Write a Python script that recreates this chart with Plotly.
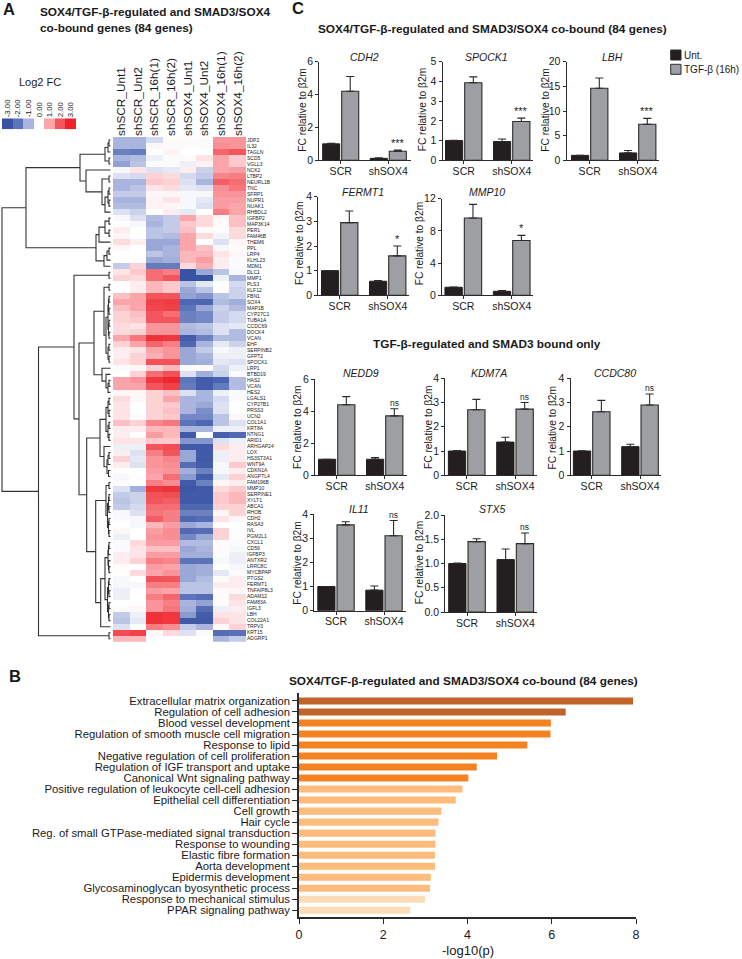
import plotly.graph_objects as go

W, H = 742, 959
FONT = "Liberation Sans"
INK = "#2b2b2b"

# ---------- Panel A data ----------
samples = ["shSCR_Unt1", "shSCR_Unt2", "shSCR_16h(1)", "shSCR_16h(2)",
           "shSOX4_Unt1", "shSOX4_Unt2", "shSOX4_16h(1)", "shSOX4_16h(2)"]
genes = ["JDP2", "IL32", "TAGLN", "SCD5", "VGLL3", "NCK2", "LTBP2", "NEURL1B", "TNC", "SFRP1",
         "NUPR1", "NUAK1", "RHBDL2", "IGFBP2", "MAP3K14", "PER1", "FAM46B", "THEM6", "PPL", "LRP4",
         "KLHL23", "MDM1", "DLC1", "MMP1", "PLS3", "KLF12", "FBN1", "SOX4", "MAP1B", "CYP27C1",
         "TUBA1A", "CCDC69", "DOCK4", "VCAN", "EHF", "SERPINB2", "GFPT2", "SPOCK1", "LRP1", "BTBD19",
         "HAS2", "VCAN", "HES2", "LGALS1", "CYP27B1", "PRSS3", "UCN2", "COL1A1", "KRT8A", "NTNG1",
         "ARID1", "ARHGAP24", "LOX", "HS3ST3A1", "WNT9A", "CDKN1A", "ANGPTL4", "FAM196B", "MMP10", "SERPINE1",
         "XYLT1", "ABCA1", "RHOB", "CDH2", "RASA3", "IVL", "PGM2L1", "CXCL1", "CD59", "IGFBP3",
         "ANTXR2", "LRRC8C", "MYCBPAP", "PTGS2", "FERMT1", "TNFAIP8L3", "ADAM12", "FAM83A", "IGFL3", "LBH",
         "COL22A1", "TRPV3", "KRT15", "ADGRP1"]
log2fc = [
    [-1, -1, -.5, .05, .05, -.05, 1.2, 1.2], [-1, -1, .1, -.05, .05, -.05, 1.3, 1.2],
    [-1.8, -1.9, 0, .15, 0, 0, 1.8, 2], [-1, -.9, -.2, -.05, .05, .3, 1, .6],
    [-1.3, -.8, -.05, -.05, -.2, .15, 1, .6], [-.1, .3, -.4, -.3, .2, -.6, 1, 1.1],
    [-.4, -.5, .5, .4, -.5, -.7, 1.4, 1.5], [-1, -1, .6, .5, -.4, -1, 1.9, 1.7],
    [-1, -.8, .3, .4, -.3, -.4, 1.3, 1.6], [-.7, -.7, .1, .1, -.1, -.1, 1.2, 1.2],
    [-1, -1, .15, .3, -.1, -.3, 1.1, 1.1], [-.9, -.9, .15, .1, -.1, -.4, 1.1, 1],
    [-.4, -.6, 0, .2, -.3, 0, 1.5, 1], [-.1, -.4, -.9, -.7, 1, .4, .1, .7],
    [0, -.1, -1, -.7, .6, .4, .05, .7], [.2, 0, -.8, -.7, .7, .05, -.03, .4],
    [.1, 0, -.8, -.9, 1, .4, -.15, .4], [.4, .2, -1.2, -1.2, 1, 0, -.4, .1],
    [.1, 0, -1.2, -1, 1, .7, -.1, .05], [0, 0, -.8, -1, .8, .8, .3, .1],
    [-.02, 0, -1.2, -1.1, .8, 1.1, .2, -.05], [-.7, .5, -1.9, -1.9, .4, .9, .2, -.05],
    [.3, .6, 1.7, 1.5, -3, -1.2, -.8, -.1], [.5, .4, 1.7, 2, -3, -3, -.2, -1],
    [0, .2, .8, .6, -.8, -.3, 0, -.5], [0, .2, .8, .6, -1.2, -.8, 0, -.6],
    [.7, 1, 2, 2, -1.3, -1.5, -.8, -.6], [1, 1, 2.4, 2.5, -2.4, -2.4, -.9, -1.1],
    [.7, 1, 2.3, 2.4, -2, -1.2, -.6, -.9], [.5, .7, 2, 1.7, -1.8, -1.7, -.7, -.5],
    [.5, .6, 2, 2, -1.8, -1.7, -.7, -.5], [.4, .3, 1.2, 1.2, -.9, -.8, -.4, -.3],
    [.4, .5, 1.2, 1.2, -1, -.9, -.4, -.9], [1, 1.6, 2.7, 2.6, -2.7, -1.8, -.9, -.9],
    [.5, 1, 1.8, 1.5, -2.4, -1, -.3, -.6], [.2, .3, 1, 1.2, -1.2, -.7, -.1, -.2],
    [.2, .5, .9, 1.2, -1.2, -1, -.2, -.2], [.3, .5, 2.1, 2.1, -1.2, -1.1, -.3, -.4],
    [-.05, .1, .5, .8, -.05, -.05, -.5, -.2], [0, .5, 1.7, 2.1, -.4, -1.1, -.6, -.05],
    [1, 1.2, 2.6, 2.9, -2, -2.7, -2.5, -.9], [1, 1, 2, 2.4, -1.9, -2.7, -1.9, -.9],
    [.1, .1, .5, .7, -.4, -1, -.2, -.05], [.4, .1, .5, 1, -1, -1, -.5, -.05],
    [.3, 0, .5, .6, -1, -1.2, -.4, 0], [.3, 0, .5, .7, -1, -1.6, -.4, 0],
    [.3, -.05, .5, .6, -1.7, -1.7, -.8, .1], [.7, .5, 1.4, 1.6, -2, -2.4, -.8, -.4],
    [.2, .2, .8, .8, -1, -1, -.2, -.2], [.2, 0, 1.1, .8, -2.8, 0, -2.6, -2.3],
    [.3, .3, .6, .6, -1.5, -1.5, -.4, -.2], [-.2, -.2, 2, 2.2, -2.8, -2.8, .4, .2],
    [.2, -.4, 1.5, 2, -1.2, -2.8, -.2, .2], [.5, -.3, 1.2, 1.4, -1.2, -2.8, -.2, .2],
    [.2, -.4, 1.2, 1.3, -2.2, -2.7, -.1, .6], [0, 0, 1.1, 1.2, -1.1, -1.8, -.1, .2],
    [-.1, .03, 1, 1.7, -1.4, -2.7, -.3, .5], [-.05, 0, 1.5, 1.3, -2.8, -1.8, .1, .2],
    [-.4, -1.1, 2.6, 2.7, -2.9, -2.8, .4, .6], [-.7, -.6, 2.1, 2.2, -2.8, -2.8, .6, .8],
    [-.8, -.6, 2, 1.9, -2.8, -2.8, .6, .8], [-.7, -.5, 1.7, 1.7, -2.4, -2.4, .5, .5],
    [-.1, -.4, 1.6, 1.5, -1.8, -1.8, .1, .5], [-.05, -.1, 1.9, 1.5, -2.4, -2.2, .3, .1],
    [0, -.1, .8, 1.1, -1.2, -1, 0, 0], [.1, 0, 1.1, 1.3, -2.3, -2.2, .5, -.03],
    [-.2, 0, 1.2, 1.3, -1.7, -1.2, .5, -.03], [-.05, .4, 1.1, 1.1, -.9, -.9, .05, -.05],
    [-.05, .3, .7, .7, -1.2, -1, .05, -.1], [.2, .3, 1.1, 1.1, -1.1, -1.1, -.05, -.2],
    [.2, .5, 1.5, 1.4, -2, -2, -.1, -.2], [.05, 0, 1.1, 1, -1.2, -1.1, 0, -.1],
    [.02, .4, 1, 1.2, -1.2, -1.1, -.3, -.05], [-.1, 0, 2.1, 2, -1.2, -.9, .05, .2],
    [-.1, -.1, 1.5, 1.5, -.8, -.8, .2, .2], [-.2, 0, 1.1, 1, -.8, -.8, .05, .1],
    [-.2, 0, 1.5, 1.8, -2, -2.2, .05, .4], [0, 0, 1.2, 1.5, -1, -1.3, .05, .3],
    [-.05, .1, 1.2, 1.6, -1.1, -2.2, -.2, .2], [-.7, -.2, 2.7, 2.6, -1.4, -2.7, .3, .3],
    [-.8, -.3, 2.7, 2.6, -2.8, -2.8, .5, .3], [-.4, -.03, 1.5, 1.3, -.7, -1, .1, .5],
    [2.2, 2.4, .1, .4, -.4, -.05, -2.2, -2.1], [.8, .8, -.02, 0, 0, 0, -1, -.7],
]
legend_values = [-3, -2, -1, 0, 1, 2, 3]
legend_labels = ["-3.00", "-2.00", "-1.00", "0.00", "1.00", "2.00", "3.00"]

# Row dendrogram: a node is [height, child, child]; a child that is an int is a row number.
leaf_height = 2.5
row_tree = [111,
    [87,
        [33,
            [8, [5, [4, 1, 2], 3], [4, 4, 5]],
            [27, 6, [11, [4, 7, 8], [8, [5, [4, 9, 10], [4, 11, 12]], 13]]]],
        [17,
            [14, [8, [4, 14, 15], [4, 16, 17]], 18],
            [9, [6, [4, 19, 20], 21], 22]]],
    [74.5,
        [39,
            [4, 23, 24],
            [34,
                [19,
                    [9, [4, 25, 26],
                        [7, [5, [4.5, [4, 27, 28], [4, 29, 30]], [4.5, [4, 31, 32], [4, 33, 34]]],
                            [5, [4, 35, 36], [4, 37, 38]]]],
                    [11, 39, [7, 40, [5, [4, 41, 42], 43]]]],
                [26.3,
                    [13,
                        [7, [5, [4, 44, 45], [4, 46, 47]], [5, [4, 48, 49], [4, 50, 51]]],
                        [9, 52, [6, [5, [4, 53, 54], 55], [4.5, 56, 57]]]],
                    [17.3,
                        [7, [4, 58, 59],
                            [5.5, [4.5, [4, 60, 61], [4, 62, 63]], [4.5, [4, 64, 65], [4, 66, 67]]]],
                        [12.3,
                            [8, [5, [4.5, [4, 68, 69], 70], [4.5, 71, [4, 72, 73]]],
                                [5.5, [4.5, [4, 74, 75], [4, 76, 77]], [4.5, [4, 78, 79], [4, 80, 81]]]],
                            82]]]]],
        [4, 83, 84]]]

# ---------- Panel B data ----------
terms = ["Extracellular matrix organization", "Regulation of cell adhesion", "Blood vessel development",
         "Regulation of smooth muscle cell migration", "Response to lipid",
         "Negative regulation of cell proliferation", "Regulation of IGF transport and uptake",
         "Canonical Wnt signaling pathway", "Positive regulation of leukocyte cell-cell adhesion",
         "Epithelial cell differentiation", "Cell growth", "Hair cycle",
         "Reg. of small GTPase-mediated signal transduction", "Response to wounding", "Elastic fibre formation",
         "Aorta development", "Epidermis development", "Glycosaminoglycan byosynthetic process",
         "Response to mechanical stimulus", "PPAR signaling pathway"]
log_p = [7.93, 6.33, 5.98, 5.97, 5.42, 4.7, 4.22, 4.02, 3.88, 3.72,
         3.38, 3.31, 3.24, 3.24, 3.23, 3.23, 3.13, 3.11, 2.99, 2.64]
term_colors = ["#c0622a"] * 2 + ["#f58220"] * 6 + ["#fdbb7c"] * 10 + ["#fddcb8"] * 2

# ---------- Panel C data ----------
groups = ["SCR", "shSOX4"]
qpcr_genes = ["CDH2", "SPOCK1", "LBH", "FERMT1", "MMP10", "NEDD9", "KDM7A", "CCDC80", "IL11", "STX5"]
unt_mean = [[1.0, .12], [1.0, .95], [1.0, 1.5], [1.0, .57], [1.0, .5],
            [1.0, 1.0], [1.0, 1.37], [1.0, 1.18], [1.0, .85], [1.0, 1.08]]
unt_err = [[.03, .03], [.02, .13], [0, .5], [0, .03], [.02, .1],
           [0, .1], [.02, .2], [.01, .1], [0, .17], [.01, .22]]
tgf_mean = [[4.2, .55], [3.93, 1.97], [14.6, 7.3], [2.95, 1.6], [9.6, 6.8],
            [4.4, 3.7], [2.7, 2.73], [2.62, 2.9], [3.55, 3.1], [1.45, 1.41]]
tgf_err = [[.9, .07], [.3, .17], [2.1, 1.2], [.47, .4], [1.7, .65],
           [.5, .45], [.43, .27], [.47, .45], [.13, .63], [.06, .22]]
significance = ["***", "***", "***", "*", "*", "ns", "ns", "ns", "ns", "ns"]
y_max = [6, 5, 20, 4, 12, 6, 4, 4, 4, 2]
y_ticks = [[0, 2, 4, 6], [0, 1, 2, 3, 4, 5], [0, 5, 10, 15, 20], [0, 1, 2, 3, 4], [0, 4, 8, 12],
           [0, 2, 4, 6], [0, 1, 2, 3, 4], [0, 1, 2, 3, 4], [0, 1, 2, 3, 4], [0, .5, 1, 1.5, 2]]
y_tick_text = [None] * 9 + [["0.0", "0.5", "1.0", "1.5", "2.0"]]

# ---------- layout geometry (pixels) ----------
# axis x, right end, y of zero, y of top, group centres, y-title x, y-title y, title x, title y
panels = [
    (319.3, 410.7, 160.3, 61.7, 340.7, 388.3, 302.7, 110, 364, 57.3),
    (442.7, 533.3, 160.3, 61.7, 463.7, 511.7, 423.3, 110, 486.7, 57.3),
    (566.7, 659.3, 160.3, 61.7, 589.7, 637.7, 545.7, 110, 612.3, 57.3),
    (318.3, 409.3, 295.3, 196.7, 339.7, 387.7, 299, 244, 362.7, 192),
    (442, 533, 295.3, 198.7, 463.3, 511.7, 419.3, 244, 486.7, 192),
    (315, 406.7, 475.3, 379, 336.7, 384.7, 297.3, 427.7, 361, 373.3),
    (445.3, 536.7, 475.3, 378.3, 466.7, 515, 428.3, 427.7, 489.3, 373.3),
    (570.7, 661.3, 475.3, 378.3, 591.7, 640, 552.7, 427.7, 615.3, 373.3),
    (314.3, 405.7, 610.7, 514, 336, 384, 296.7, 563, 359.3, 509),
    (445.3, 536.7, 612, 515, 467, 515.3, 419.3, 563, 491.7, 509),
]

COLORSCALE = [[0, "#3953a4"], [1/6, "#5c74b9"], [2/6, "#a9b5de"], [.5, "#ffffff"],
              [4/6, "#fba5aa"], [5/6, "#f2565c"], [1, "#ee2229"]]


def xdom(l, r):
    return [l / W, r / W]


def ydom(t, b):
    return [1 - b / H, 1 - t / H]


fig = go.Figure()
layout = {}
annotations = []
shapes = []
axis_n = [0]


def new_axes():
    axis_n[0] += 1
    n = axis_n[0]
    s = "" if n == 1 else str(n)
    return f"x{s}", f"y{s}", f"xaxis{s}", f"yaxis{s}"


def text(t, x, y, size, bold=False, xanchor="center", angle=0, color="#1a1a1a", yanchor="middle"):
    annotations.append(dict(
        text=f"<b>{t}</b>" if bold else t, x=x / W, y=1 - y / H, xref="paper", yref="paper",
        xanchor=xanchor, yanchor=yanchor, showarrow=False, textangle=angle,
        font=dict(family=FONT, size=size, color=color), borderpad=0))


# --- heatmap
HM_L, HM_R, HM_T, HM_B = 113, 246, 137, 641.7
x, y, xa, ya = new_axes()
rows = list(range(1, len(genes) + 1))
fig.add_trace(go.Heatmap(z=log2fc, x=list(range(len(samples))), y=rows, zmin=-3, zmax=3,
                         colorscale=COLORSCALE, showscale=False, xaxis=x, yaxis=y))
layout[xa] = dict(domain=xdom(HM_L, HM_R), side="top", anchor=y, tickmode="array",
                  tickvals=list(range(len(samples))), ticktext=samples, tickangle=-90,
                  tickfont=dict(family=FONT, size=11.8, color="#1a1a1a"), ticks="", showgrid=False,
                  zeroline=False, range=[-.5, 7.5])
layout[ya] = dict(domain=ydom(HM_T, HM_B), side="right", anchor=x, tickmode="array", tickvals=rows,
                  ticktext=genes, tickfont=dict(family=FONT, size=5, color="#1a1a1a"), ticks="",
                  showgrid=False, zeroline=False, range=[84.5, .5])

# --- dendrogram
dx, dy = [], []


def walk(node):
    if isinstance(node, int):
        return leaf_height, node
    h, a, b = node
    ah, ay = walk(a)
    bh, by = walk(b)
    dx.extend([ah, h, h, bh, None])
    dy.extend([ay, ay, by, by, None])
    return h, (ay + by) / 2


walk(row_tree)
x, y, xa, ya = new_axes()
fig.add_trace(go.Scatter(x=dx, y=dy, mode="lines", line=dict(color="#333333", width=1.1),
                         hoverinfo="skip", showlegend=False, xaxis=x, yaxis=y))
layout[xa] = dict(domain=xdom(0, HM_L), range=[113, 0], visible=False, anchor=y)
layout[ya] = dict(domain=ydom(HM_T, HM_B), range=[84.5, .5], visible=False, anchor=x)

# --- colour key
x, y, xa, ya = new_axes()
fig.add_trace(go.Heatmap(z=[legend_values], x=list(range(7)), y=[0], zmin=-3, zmax=3,
                         colorscale=COLORSCALE, showscale=False, xaxis=x, yaxis=y, hoverinfo="skip"))
layout[xa] = dict(domain=xdom(2, 76), side="top", anchor=y, tickmode="array", tickvals=list(range(7)),
                  ticktext=legend_labels, tickangle=-90, ticks="", showgrid=False, zeroline=False,
                  tickfont=dict(family=FONT, size=7.8, color="#1a1a1a"), range=[-.5, 6.5])
layout[ya] = dict(domain=ydom(118.3, 129.3), visible=False, anchor=x)
text("Log2 FC", 40, 82, 11)

# --- panel B
x, y, xa, ya = new_axes()
fig.add_trace(go.Bar(x=log_p, y=terms, orientation="h", width=.64, marker=dict(color=term_colors, line=dict(width=0)),
                     showlegend=False, xaxis=x, yaxis=y))
layout[xa] = dict(domain=xdom(299, 636), range=[0, 8], anchor=y, tickmode="array", tickvals=[0, 2, 4, 6, 8],
                  showline=True, linecolor=INK, linewidth=1.5, ticks="outside", ticklen=5, tickwidth=1.3,
                  tickcolor=INK, showgrid=False, zeroline=False,
                  tickfont=dict(family=FONT, size=12.5, color="#1a1a1a"))
layout[ya] = dict(domain=ydom(692.7, 917.3), type="category", range=[19.64, -.75], anchor=x, dtick=1,
                  showline=True, linecolor=INK, linewidth=1.5, ticks="outside", ticklen=5, tickwidth=1.3,
                  tickcolor=INK, showgrid=False, zeroline=False,
                  tickfont=dict(family=FONT, size=11.3, color="#1a1a1a"))
text("-log10(p)", 467.5, 950.7, 13)

# --- panel C
for i, gene in enumerate(qpcr_genes):
    ax, right, y0, ytop, c1, c2, ytx, yty, tx, ty = panels[i]
    s = c2 - c1
    x, y, xa, ya = new_axes()
    fig.add_trace(go.Bar(x=groups, y=unt_mean[i], name="Unt.", showlegend=False, xaxis=x, yaxis=y,
                         marker=dict(color="#231f20", line=dict(color="#231f20", width=1)),
                         error_y=dict(type="data", symmetric=False, array=unt_err[i], arrayminus=[0, 0],
                                      color=INK, thickness=1.1, width=4)))
    fig.add_trace(go.Bar(x=groups, y=tgf_mean[i], name="TGF-β (16h)", showlegend=False, xaxis=x, yaxis=y,
                         marker=dict(color="#9d9fa2", line=dict(color="#2b2b2b", width=1.1)),
                         error_y=dict(type="data", symmetric=False, array=tgf_err[i], arrayminus=[0, 0],
                                      color=INK, thickness=1.1, width=4)))
    layout[xa] = dict(domain=xdom(ax, right), anchor=y, type="category", range=[(ax - c1) / s, (right - c1) / s],
                      showline=True, linecolor=INK, linewidth=1.3, ticks="outside", ticklen=3, tickwidth=1.1,
                      tickcolor=INK, showgrid=False, zeroline=False, ticklabelstandoff=-2,
                      tickfont=dict(family=FONT, size=10.5, color="#1a1a1a"))
    ya_d = dict(domain=ydom(ytop, y0), anchor=x, range=[0, y_max[i]], tickmode="array", tickvals=y_ticks[i],
                showline=True, linecolor=INK, linewidth=1.3, ticks="outside", ticklen=3, tickwidth=1.1,
                tickcolor=INK, showgrid=False, zeroline=False,
                tickfont=dict(family=FONT, size=10.5, color="#1a1a1a"))
    if y_tick_text[i]:
        ya_d["ticktext"] = y_tick_text[i]
    layout[ya] = ya_d
    text(f"<i>{gene}</i>", tx, ty, 10.5)
    text("FC relative to β2m", ytx, yty, 10.2, angle=-90)
    annotations.append(dict(text=significance[i], x=1.2, y=tgf_mean[i][1] + tgf_err[i][1], xref=x, yref=y,
                            xanchor="center", yanchor="bottom", showarrow=False, borderpad=0,
                            font=dict(family=FONT, size=11 if significance[i] != "ns" else 8.5, color="#1a1a1a")))

# --- titles and labels
text("A", 2, 9, 16.5, bold=True, xanchor="left")
text("C", 291, 8, 16.5, bold=True, xanchor="left")
text("B", 8, 676, 16.5, bold=True, xanchor="left")
text("SOX4/TGF-β-regulated and SMAD3/SOX4", 39.3, 12.3, 11.8, bold=True, xanchor="left")
text("co-bound genes (84 genes)", 39.3, 27.7, 11.8, bold=True, xanchor="left")
text("SOX4/TGF-β-regulated and SMAD3/SOX4 co-bound (84 genes)", 316.7, 29.3, 11.8, bold=True, xanchor="left")
text("TGF-β-regulated and SMAD3 bound only", 372.3, 344, 11.8, bold=True, xanchor="left")
text("SOX4/TGF-β-regulated and SMAD3/SOX4 co-bound (84 genes)", 288.4, 680.7, 11.8, bold=True, xanchor="left")

# --- bar legend
for (top, fill, name) in [(50, "#231f20", "Unt."), (64.3, "#9d9fa2", "TGF-β (16h)")]:
    shapes.append(dict(type="rect", xref="paper", yref="paper", x0=670.7 / W, x1=681 / W,
                       y0=1 - (top + 10) / H, y1=1 - top / H, fillcolor=fill,
                       line=dict(color="#2b2b2b", width=1)))
    text(name, 683, top + 5, 10, xanchor="left")

fig.update_layout(template="none", width=W, height=H, margin=dict(l=0, r=0, t=0, b=0), autosize=False,
                  paper_bgcolor="white", plot_bgcolor="white", barmode="group", bargap=.2, bargroupgap=.105,
                  showlegend=False, annotations=annotations, shapes=shapes, font=dict(family=FONT), **layout)
fig.write_html("out.html", config={"displayModeBar": False},
               post_script="document.body.style.margin='0';")
